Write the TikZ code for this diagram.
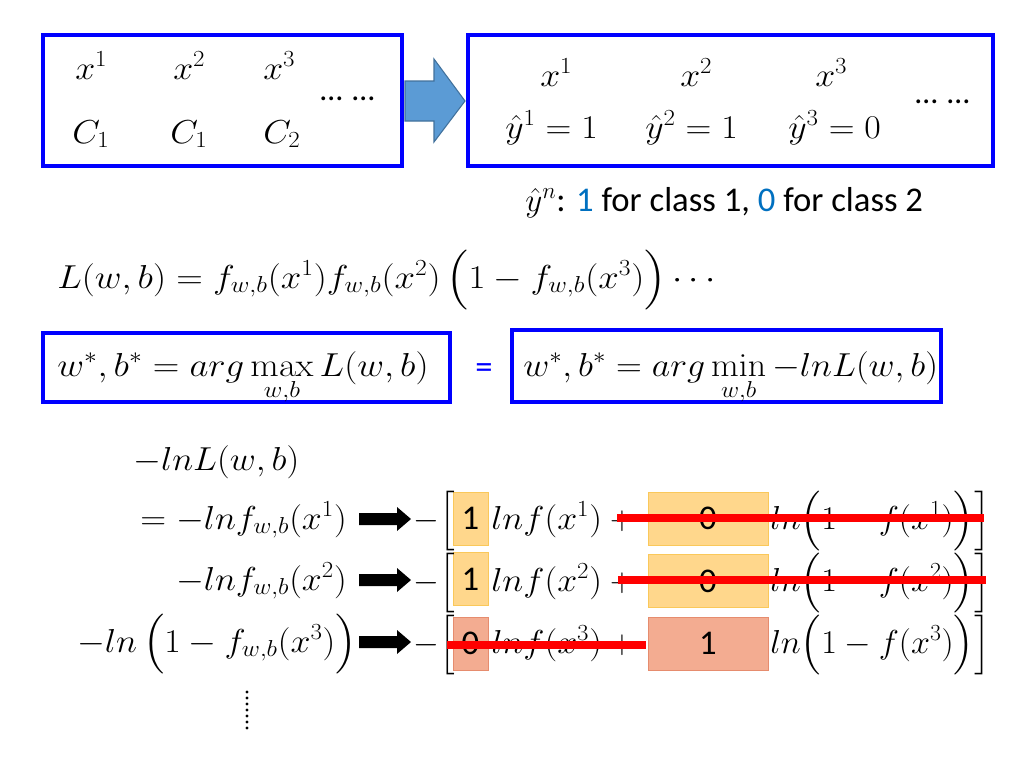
\documentclass[tikz,border=0pt]{standalone}
\usepackage{amsmath}
\usepackage{graphicx}
\usepackage[no-math]{fontspec}
\setmainfont{Carlito}
\newcommand{\wxa}[1]{\scalebox{1.08}[1]{#1}}
\newcommand{\wxb}[1]{\scalebox{1.11}[1]{#1}}
\newcommand{\wxc}[1]{\scalebox{1.03}[1]{#1}}
\definecolor{bbox}{RGB}{0,0,255}
\definecolor{arrblue}{RGB}{91,155,213}
\definecolor{arrblueedge}{RGB}{65,113,156}
\definecolor{capblue}{RGB}{0,112,192}
\definecolor{orfill}{RGB}{255,215,140}
\definecolor{oredge}{RGB}{250,200,90}
\definecolor{safill}{RGB}{243,172,145}
\definecolor{saedge}{RGB}{230,140,110}
\definecolor{strike}{RGB}{255,0,0}
\begin{document}
\begin{tikzpicture}[x=0.75pt,y=-0.75pt,
  txt/.style={inner sep=0pt, anchor=base west, font=\fontsize{27}{32}\selectfont},
  stxt/.style={inner sep=0pt, anchor=base west, font=\fontsize{26}{31}\selectfont},
  dtxt/.style={inner sep=0pt, anchor=base west, font=\fontsize{24}{28}\selectfont},
  bluebox/.style={draw=bbox, line width=3pt},
  obox/.style={draw=oredge, fill=orfill, line width=0.6pt, inner sep=0pt, minimum height=39.75pt, font=\fontsize{26}{31}\selectfont},
  sbox/.style={draw=saedge, fill=safill, line width=0.6pt, inner sep=0pt, minimum height=39.75pt, font=\fontsize{26}{31}\selectfont},
  narrow/.style={minimum width=26.25pt},
  wide/.style={minimum width=90pt},
  strikeline/.style={draw=strike, line width=6.4pt},
  blockarrow/.style={fill=black}
]
\useasboundingbox (0,0) rectangle (1024,768);
\fill[white] (0,0) rectangle (1024,768);

% top left box
\draw[bluebox] (43,35) rectangle (402,166);
\node[txt] (a1) at (75,79) {\wxa{$x^1$}};
\node[txt] (a2) at (173,79) {\wxa{$x^2$}};
\node[txt] (a3) at (263,79) {\wxa{$x^3$}};
\node[txt] (c1) at (72,143) {\wxa{$C_1$}};
\node[txt] (c2) at (170,143) {\wxa{$C_1$}};
\node[txt] (c3) at (263,143) {\wxa{$C_2$}};
\node[dtxt] (ad1) at (320,100) {…};
\node[dtxt] (ad2) at (352,100) {…};

% blue block arrow
\draw[fill=arrblue, draw=arrblueedge, line width=0.8pt]
  (405,81) -- (434,81) -- (434,59) -- (465,101) -- (434,142) -- (434,121) -- (405,121) -- cycle;

% top right box
\draw[bluebox] (468,35) rectangle (993,166);
\node[txt] (b1) at (540,86) {\wxa{$x^1$}};
\node[txt] (b2) at (680,86) {\wxa{$x^2$}};
\node[txt] (b3) at (815,86) {\wxa{$x^3$}};
\node[txt] (y1) at (505,138) {\wxa{$\hat{y}^1=1$}};
\node[txt] (y2) at (645,138) {\wxa{$\hat{y}^2=1$}};
\node[txt] (y3) at (788,138) {\wxa{$\hat{y}^3=0$}};
\node[dtxt] (bd1) at (915,103) {…};
\node[dtxt] (bd2) at (947,103) {…};

% caption
\node[stxt] (cap) at (525,211) {$\hat{y}^n$: \textcolor{capblue}{1} for class 1, \textcolor{capblue}{0} for class 2};

% likelihood
\node[txt] (lik) at (57,288) {\wxb{$L(w,b)=f_{w,b}(x^1)f_{w,b}(x^2)\,\Bigl(1-f_{w,b}(x^3)\Bigr)\cdots$}};

% argmax / argmin boxes
\draw[bluebox] (43,333) rectangle (450,402);
\node[txt] (amax) at (57,376) {\wxb{$w^*,b^*=arg\max\limits_{w,b}L(w,b)$}};
\node[stxt, text=bbox] (eq) at (475,378) {=};
\draw[bluebox] (512,330) rectangle (941,402);
\node[txt] (amin) at (523,376) {\wxa{$w^*,b^*=arg\min\limits_{w,b}-lnL(w,b)$}};

% bottom left derivation
\node[txt] (nl) at (133,470) {\wxa{$-lnL(w,b)$}};
\node[txt, anchor=base east] (r1) at (347,529) {\wxa{$=-lnf_{w,b}(x^1)$}};
\node[txt, anchor=base east] (r2) at (347,590) {\wxa{$-lnf_{w,b}(x^2)$}};
\node[txt, anchor=base east] (r3) at (357,652) {\wxa{$-ln\,\Bigl(1-f_{w,b}(x^3)\Bigr)$}};
\foreach \yy in {692,698,...,728} \fill (247,\yy) circle (1.6);

% black block arrows
\foreach \yc in {519,580,642} {
  \fill[blockarrow] (359,\yc-6) -- (397,\yc-6) -- (397,\yc-12) -- (411,\yc) -- (397,\yc+12) -- (397,\yc+6) -- (359,\yc+6) -- cycle;
}

% row 1
\node[obox, narrow] (p11) at (470.5,518.5) {1};
\node[obox, wide] (p12) at (708,518.5) {0};
\node[txt, anchor=base east] (m1) at (455,529) {$-\Bigl[$};
\node[txt] (l11) at (491,529) {\wxa{$lnf(x^1)$}};
\node[txt, anchor=base] (q1) at (622,529) {$+$};
\node[txt] (l12) at (770,529) {\wxc{$ln\Bigl(1-f(x^1)\Bigr)\Bigr]$}};
% row 2
\node[obox, narrow] (p21) at (470.5,579) {1};
\node[obox, wide] (p22) at (708,581) {0};
\node[txt, anchor=base east] (m2) at (455,591) {$-\Bigl[$};
\node[txt] (l21) at (491,591) {\wxa{$lnf(x^2)$}};
\node[txt, anchor=base] (q2) at (622,591) {$+$};
\node[txt] (l22) at (770,591) {\wxc{$ln\Bigl(1-f(x^2)\Bigr)\Bigr]$}};
% row 3
\node[sbox, narrow] (p31) at (470.5,643.5) {0};
\node[sbox, wide] (p32) at (708,643.5) {1};
\node[txt, anchor=base east] (m3) at (455,653) {$-\Bigl[$};
\node[txt] (l31) at (491,653) {\wxa{$lnf(x^3)$}};
\node[txt, anchor=base] (q3) at (622,653) {$+$};
\node[txt] (l32) at (770,653) {\wxc{$ln\Bigl(1-f(x^3)\Bigr)\Bigr]$}};

% strike lines
\coordinate (s1a) at (617,518); \coordinate (s1b) at (984,518);
\coordinate (s2a) at (618,580); \coordinate (s2b) at (986,580);
\coordinate (s3a) at (447,645); \coordinate (s3b) at (646,645);
\draw[strikeline] (s1a) -- (s1b);
\draw[strikeline] (s2a) -- (s2b);
\draw[strikeline] (s3a) -- (s3b);
\end{tikzpicture}
\end{document}
